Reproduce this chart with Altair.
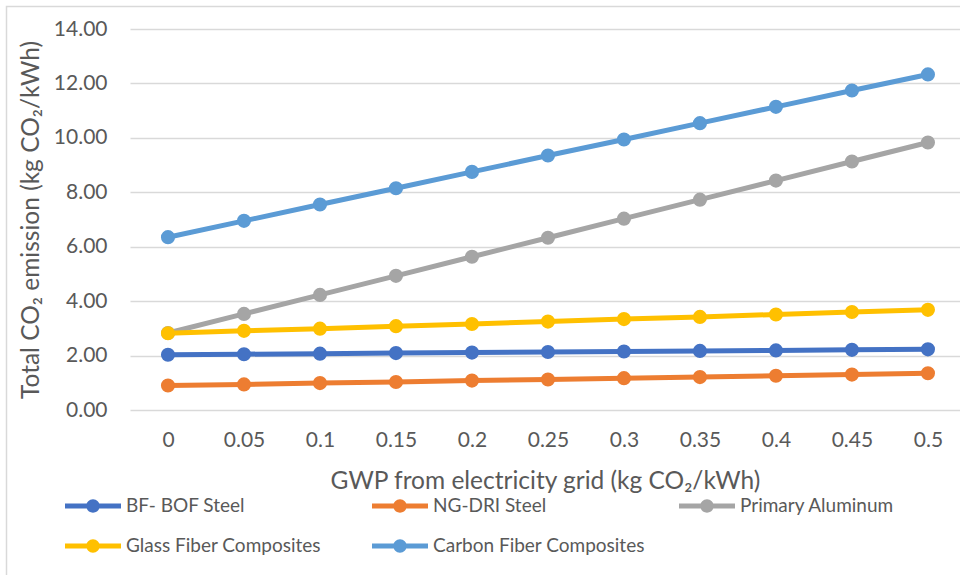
import altair as alt
import pandas as pd

# GWP of the electricity grid (kg CO2/kWh)
gwp = [0, 0.05, 0.1, 0.15, 0.2, 0.25, 0.3, 0.35, 0.4, 0.45, 0.5]

# Total CO2 emission per material (kg CO2/kWh)
bf_bof = [2.03, 2.05, 2.07, 2.09, 2.11, 2.13, 2.15, 2.17, 2.19, 2.21, 2.23]
ng_dri = [0.90, 0.94, 0.99, 1.03, 1.08, 1.12, 1.17, 1.21, 1.26, 1.30, 1.35]
aluminum = [2.83, 3.53, 4.23, 4.93, 5.63, 6.33, 7.03, 7.73, 8.43, 9.13, 9.83]
glass = [2.82, 2.91, 2.99, 3.08, 3.16, 3.25, 3.34, 3.42, 3.51, 3.60, 3.68]
carbon = [6.35, 6.95, 7.55, 8.15, 8.75, 9.35, 9.94, 10.54, 11.14, 11.74, 12.33]

series_names = ["BF- BOF Steel", "NG-DRI Steel", "Primary Aluminum",
                "Glass Fiber Composites", "Carbon Fiber Composites"]
series_values = [bf_bof, ng_dri, aluminum, glass, carbon]
series_colors = ["#4472C4", "#ED7D31", "#A5A5A5", "#FFC000", "#5B9BD5"]

rows = []
for order, (name, vals) in enumerate(zip(series_names, series_values)):
    for g, v in zip(gwp, vals):
        rows.append({"material": name, "order": order, "gwp": g, "emission": v})
df = pd.DataFrame(rows)

FONT = "Lato"
TEXT = "#595959"
GRID = "#D9D9D9"
W, H = 830, 381

# legend symbol: a short thick line with a dot in the middle
LINE_DOT = ("M-1,-0.09H1V0.09H-1Z "
            "M0.24,0A0.24,0.24 0 1,1 -0.24,0A0.24,0.24 0 1,1 0.24,0Z")

legend = alt.Legend(
    title=None, orient="none", legendX=-65, legendY=449,
    direction="horizontal", columns=3, gridAlign="all",
    columnPadding=34, rowPadding=2,
    symbolType=LINE_DOT, symbolSize=3136, symbolStrokeWidth=0,
    symbolOpacity=1, labelOffset=5,
    labelFont=FONT, labelFontSize=19, labelColor=TEXT,
    labelLimit=400,
)

x_enc = alt.X(
    "gwp:Q",
    scale=alt.Scale(domain=[-0.025, 0.5211], nice=False, zero=False),
    axis=alt.Axis(
        values=gwp, format="~g", ticks=False, domain=False, grid=False,
        labelFont=FONT, labelFontSize=21, labelColor=TEXT, labelPadding=19,
        title="GWP from electricity grid (kg CO₂/kWh)",
        titleFont=FONT, titleFontSize=24.5, titleFontWeight="normal",
        titleColor=TEXT, titlePadding=19,
    ),
)
y_enc = alt.Y(
    "emission:Q",
    scale=alt.Scale(domain=[0, 14], nice=False),
    axis=alt.Axis(
        values=[0, 2, 4, 6, 8, 10, 12, 14], format=".2f", ticks=False,
        domain=False, grid=True, gridColor=GRID, gridWidth=1.5,
        labelFont=FONT, labelFontSize=21, labelColor=TEXT, labelPadding=23,
        title="Total CO₂ emission (kg CO₂/kWh)",
        titleFont=FONT, titleFontSize=24.5, titleFontWeight="normal",
        titleColor=TEXT, titlePadding=10,
    ),
)
color_scale = alt.Scale(domain=series_names, range=series_colors)

lines = alt.Chart(df).mark_line(strokeWidth=5).encode(
    x=x_enc,
    y=y_enc,
    color=alt.Color("material:N", scale=color_scale, legend=legend),
    order="gwp:Q",
)

points = alt.Chart(df).mark_point(filled=True, size=200, opacity=1).encode(
    x="gwp:Q",
    y="emission:Q",
    color=alt.Color("material:N", scale=color_scale, legend=legend),
)

# outer chart frame
frame = alt.Chart(pd.DataFrame({"f": [0]})).mark_rect(
    fill=None, stroke=GRID, strokeWidth=1.5
).encode(
    x=alt.value(-123.5), y=alt.value(-22.5),
    x2=alt.value(W + 100), y2=alt.value(H + 300),
)

chart = alt.layer(frame, lines, points).properties(
    width=W,
    height=H,
    autosize=alt.AutoSizeParams(type="none"),
    padding={"left": 130, "top": 29, "right": 0, "bottom": 165},
    background="white",
).configure_view(stroke=None)

chart.save("out.html", embed_options={"renderer": "svg", "actions": False})
